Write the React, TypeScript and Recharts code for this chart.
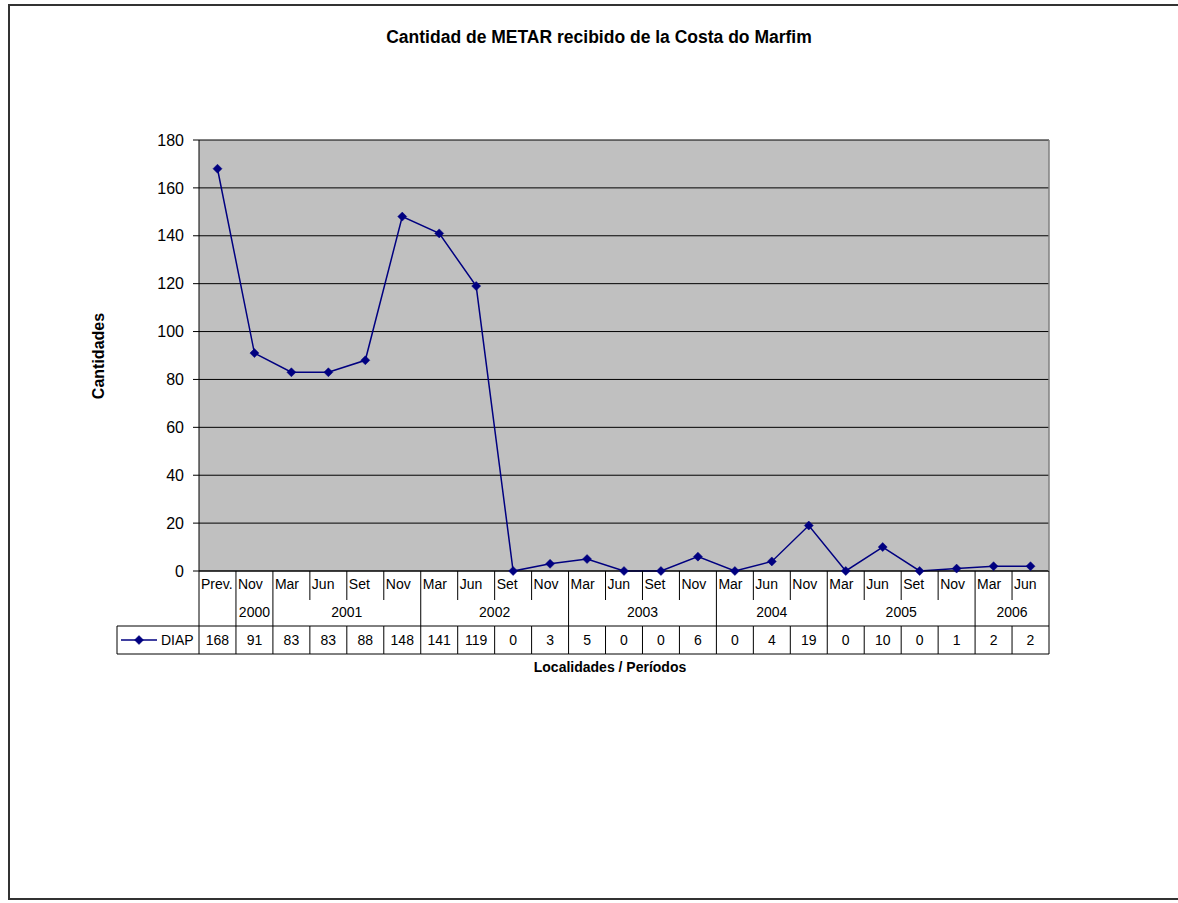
import React from "react";
import { LineChart, Line, XAxis, YAxis, CartesianGrid } from "recharts";

const months = ["Prev.", "Nov", "Mar", "Jun", "Set", "Nov", "Mar", "Jun", "Set", "Nov", "Mar", "Jun", "Set", "Nov", "Mar", "Jun", "Nov", "Mar", "Jun", "Set", "Nov", "Mar", "Jun"];
const years = ["", "2000", "2001", "2001", "2001", "2001", "2002", "2002", "2002", "2002", "2003", "2003", "2003", "2003", "2004", "2004", "2004", "2005", "2005", "2005", "2005", "2006", "2006"];
const diapValues = [168, 91, 83, 83, 88, 148, 141, 119, 0, 3, 5, 0, 0, 6, 0, 4, 19, 0, 10, 0, 1, 2, 2];
const yTicks = [0, 20, 40, 60, 80, 100, 120, 140, 160, 180];
const seriesName = "DIAP";
const title = "Cantidad de METAR recibido de la Costa do Marfim";
const yTitle = "Cantidades";
const xTitle = "Localidades / Períodos";

const data = months.map((m, i) => ({ key: String(i), month: m, year: years[i], value: diapValues[i] }));

const W = 1178;
const H = 903;
const YW = 60;
const M = { top: 140, right: 129, bottom: 252, left: 139 };
const XH = 80;
const PLOT_W = W - M.left - M.right - YW;
const PLOT_H = H - M.top - M.bottom - XH;
const N = months.length;
const BW = PLOT_W / N;
const FONT = "'Liberation Sans', Arial, sans-serif";
const NAVY = "#000080";
const TFS = 14;

const Diamond = (props: any) => {
  const { cx, cy } = props;
  if (cx == null || cy == null) return null;
  const r = 4.5;
  return <path d={`M${cx},${cy - r}L${cx + r},${cy}L${cx},${cy + r}L${cx - r},${cy}Z`} fill={NAVY} stroke={NAVY} strokeWidth={0.5} />;
};

const TableTick = (props: any) => {
  const { x, y, payload } = props;
  const i: number = payload.index ?? props.index;
  const half = BW / 2;
  const left = x - half;
  const right = x + half;
  const groupStart = i === 0 || years[i] !== years[i - 1];
  let groupCount = 1;
  while (i + groupCount < N && years[i + groupCount] === years[i]) groupCount++;
  const rowMonthBottom = y + 29;
  const rowYearBottom = y + 55;
  const rowValBottom = y + 83;
  const els: any[] = [];
  els.push(
    <text key="m" x={left + 2} y={y + 13} dy="0.355em" fontSize={TFS} fontFamily={FONT} fill="#000">
      {months[i]}
    </text>
  );
  els.push(
    <line key="ld" x1={left} y1={y} x2={left} y2={groupStart ? rowYearBottom : rowMonthBottom} stroke="#000" strokeWidth={1} />
  );
  els.push(<line key="vl" x1={left} y1={rowYearBottom} x2={left} y2={rowValBottom} stroke="#000" strokeWidth={1} />);
  els.push(<line key="vt" x1={left} y1={rowYearBottom} x2={right} y2={rowYearBottom} stroke="#000" strokeWidth={1} />);
  els.push(<line key="vb" x1={left} y1={rowValBottom} x2={right} y2={rowValBottom} stroke="#000" strokeWidth={1} />);
  els.push(
    <text key="v" x={x} y={y + 69} dy="0.355em" textAnchor="middle" fontSize={TFS} fontFamily={FONT} fill="#000">
      {diapValues[i]}
    </text>
  );
  if (groupStart && years[i]) {
    els.push(
      <text key="y" x={left + (groupCount * BW) / 2} y={y + 41} dy="0.355em" textAnchor="middle" fontSize={TFS} fontFamily={FONT} fill="#000">
        {years[i]}
      </text>
    );
  }
  if (i === 0) {
    const lx = left - 82;
    els.push(<line key="lt" x1={lx} y1={rowYearBottom} x2={left} y2={rowYearBottom} stroke="#000" strokeWidth={1} />);
    els.push(<line key="lb" x1={lx} y1={rowValBottom} x2={left} y2={rowValBottom} stroke="#000" strokeWidth={1} />);
    els.push(<line key="ll" x1={lx} y1={rowYearBottom} x2={lx} y2={rowValBottom} stroke="#000" strokeWidth={1} />);
    els.push(<line key="lg" x1={lx + 4} y1={y + 69} x2={lx + 40} y2={y + 69} stroke={NAVY} strokeWidth={1.5} />);
    els.push(<Diamond key="ld2" cx={lx + 22} cy={y + 69} />);
    els.push(
      <text key="ln" x={lx + 44} y={y + 69} dy="0.355em" fontSize={TFS} fontFamily={FONT} fill="#000">
        {seriesName}
      </text>
    );
  }
  if (i === N - 1) {
    els.push(<line key="rd" x1={right} y1={y} x2={right} y2={rowValBottom} stroke="#000" strokeWidth={1} />);
    els.push(<line key="pb" x1={right} y1={y - PLOT_H} x2={right} y2={y} stroke="#808080" strokeWidth={1.5} />);
  }
  return <g>{els}</g>;
};

export default function App() {
  return (
    <div style={{ position: "absolute", left: 0, top: 0, width: W, height: H, overflow: "hidden", background: "#fff" }}>
      <div
        style={{
          position: "absolute",
          left: 8,
          top: 4,
          width: 1170,
          height: 896,
          boxSizing: "border-box",
          border: "2px solid #333",
          borderRight: "none",
        }}
      />
      <div style={{ position: "absolute", left: 0, top: 0 }}>
        <LineChart width={W} height={H} data={data} margin={M}>
          <CartesianGrid vertical={false} stroke="#000" fill="#C0C0C0" fillOpacity={1} />
          <XAxis
            dataKey="key"
            scale="band"
            height={XH}
            interval={0}
            tickSize={0}
            tickMargin={0}
            tickLine={false}
            axisLine={{ stroke: "#000" }}
            tick={<TableTick />}
          />
          <YAxis
            width={YW}
            domain={[0, 180]}
            ticks={yTicks}
            interval={0}
            tickSize={6}
            tickMargin={9}
            stroke="#000"
            tick={{ fill: "#000", fontSize: 16, fontFamily: FONT }}
          />
          <Line dataKey="value" stroke={NAVY} strokeWidth={1.5} dot={<Diamond />} activeDot={false} isAnimationActive={false} />
        </LineChart>
      </div>
      <div
        style={{
          position: "absolute",
          left: 0,
          width: 1198,
          top: 27,
          textAlign: "center",
          fontFamily: FONT,
          fontWeight: "bold",
          fontSize: 17.5,
          color: "#000",
        }}
      >
        {title}
      </div>
      <div
        style={{
          position: "absolute",
          left: 410,
          width: 400,
          top: 659,
          textAlign: "center",
          fontFamily: FONT,
          fontWeight: "bold",
          fontSize: 14,
          color: "#000",
        }}
      >
        {xTitle}
      </div>
      <div
        style={{
          position: "absolute",
          left: 99 - 100,
          top: 356 - 10,
          width: 200,
          height: 20,
          lineHeight: "20px",
          textAlign: "center",
          transform: "rotate(-90deg)",
          fontFamily: FONT,
          fontWeight: "bold",
          fontSize: 16,
          color: "#000",
        }}
      >
        {yTitle}
      </div>
    </div>
  );
}
